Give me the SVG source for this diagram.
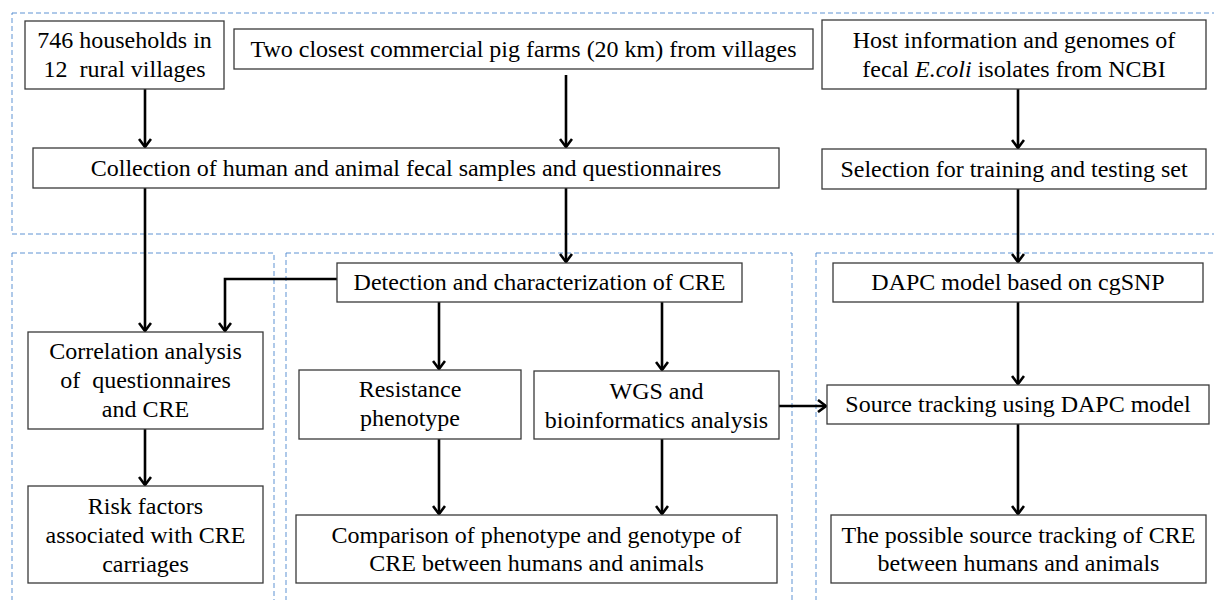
<svg xmlns="http://www.w3.org/2000/svg" width="1214" height="600" viewBox="0 0 1214 600" font-family="Liberation Serif, DejaVu Serif, serif">
<style>
.box{fill:#fff;stroke:#3a3a3a;stroke-width:1.3}
.grp{fill:none;stroke:#5f93d3;stroke-width:1;stroke-dasharray:5,3}
.t{font-family:'Liberation Serif','Times New Roman',serif;font-size:24px;fill:#000;text-anchor:middle;white-space:pre}
.c{fill:none;stroke:#000;stroke-width:2.6}
</style>
<defs>
<marker id="ah" viewBox="0 0 10 14" refX="9" refY="7" markerWidth="10" markerHeight="14" markerUnits="userSpaceOnUse" orient="auto">
<path d="M1,1 L9,7 L1,13" fill="none" stroke="#000" stroke-width="2.6"/>
</marker>
</defs>
<g id="containers">
<rect class="grp" x="12" y="13" width="1212" height="221"/>
<rect class="grp" x="12" y="253" width="262" height="360"/>
<rect class="grp" x="286" y="253" width="506" height="360"/>
<rect class="grp" x="816" y="253" width="410" height="360"/>
</g>
<g id="connectors">
<path class="c" d="M145,89 V147" marker-end="url(#ah)"/>
<path class="c" d="M566,75 V147" marker-end="url(#ah)"/>
<path class="c" d="M1018,89 V148" marker-end="url(#ah)"/>
<path class="c" d="M145,188 V331" marker-end="url(#ah)"/>
<path class="c" d="M566,188 V262" marker-end="url(#ah)"/>
<path class="c" d="M1018,189 V262" marker-end="url(#ah)"/>
<path class="c" d="M337,279 H225 V331" marker-end="url(#ah)"/>
<path class="c" d="M439,302 V369" marker-end="url(#ah)"/>
<path class="c" d="M662,302 V370" marker-end="url(#ah)"/>
<path class="c" d="M439,439 V514" marker-end="url(#ah)"/>
<path class="c" d="M662,439 V514" marker-end="url(#ah)"/>
<path class="c" d="M779,406 H826" marker-end="url(#ah)"/>
<path class="c" d="M1018,302 V384" marker-end="url(#ah)"/>
<path class="c" d="M1018,424 V514" marker-end="url(#ah)"/>
<path class="c" d="M145,429 V485" marker-end="url(#ah)"/>
</g>
<g id="n1"><rect class="box" x="25" y="21" width="199" height="68"/><text class="t" x="124.5" y="48">746 households in</text><text class="t" x="124.5" y="77">12  rural villages</text></g>
<g id="n2"><rect class="box" x="234" y="29" width="579" height="40"/><text class="t" x="523.5" y="57">Two closest commercial pig farms (20 km) from villages</text></g>
<g id="n3"><rect class="box" x="822" y="20" width="384" height="69"/><text class="t" x="1014" y="48">Host information and genomes of</text><text class="t" x="1014" y="77">fecal <tspan font-style="italic">E.coli</tspan> isolates from NCBI</text></g>
<g id="n4"><rect class="box" x="33" y="148" width="746" height="40"/><text class="t" x="406" y="176">Collection of human and animal fecal samples and questionnaires</text></g>
<g id="n5"><rect class="box" x="822" y="149" width="384" height="40"/><text class="t" x="1014" y="177">Selection for training and testing set</text></g>
<g id="n6"><rect class="box" x="337" y="263" width="405" height="39"/><text class="t" x="539.5" y="290">Detection and characterization of CRE</text></g>
<g id="n7"><rect class="box" x="833" y="263" width="370" height="39"/><text class="t" x="1018" y="290">DAPC model based on cgSNP</text></g>
<g id="n8"><rect class="box" x="28" y="332" width="235" height="97"/><text class="t" x="145.5" y="359">Correlation analysis</text><text class="t" x="145.5" y="388">of  questionnaires</text><text class="t" x="145.5" y="417">and CRE</text></g>
<g id="n9"><rect class="box" x="28" y="486" width="235" height="97"/><text class="t" x="145.5" y="514">Risk factors</text><text class="t" x="145.5" y="543">associated with CRE</text><text class="t" x="145.5" y="572">carriages</text></g>
<g id="n10"><rect class="box" x="299" y="370" width="222" height="69"/><text class="t" x="410" y="397">Resistance</text><text class="t" x="410" y="426">phenotype</text></g>
<g id="n11"><rect class="box" x="534" y="371" width="245" height="68"/><text class="t" x="656.5" y="399">WGS and</text><text class="t" x="656.5" y="428">bioinformatics analysis</text></g>
<g id="n12"><rect class="box" x="827" y="385" width="382" height="39"/><text class="t" x="1018" y="412">Source tracking using DAPC model</text></g>
<g id="n13"><rect class="box" x="296" y="515" width="481" height="68"/><text class="t" x="536.5" y="543">Comparison of phenotype and genotype of</text><text class="t" x="536.5" y="571">CRE between humans and animals</text></g>
<g id="n14"><rect class="box" x="831" y="515" width="375" height="68"/><text class="t" x="1018.5" y="543">The possible source tracking of CRE</text><text class="t" x="1018.5" y="571">between humans and animals</text></g>
</svg>
